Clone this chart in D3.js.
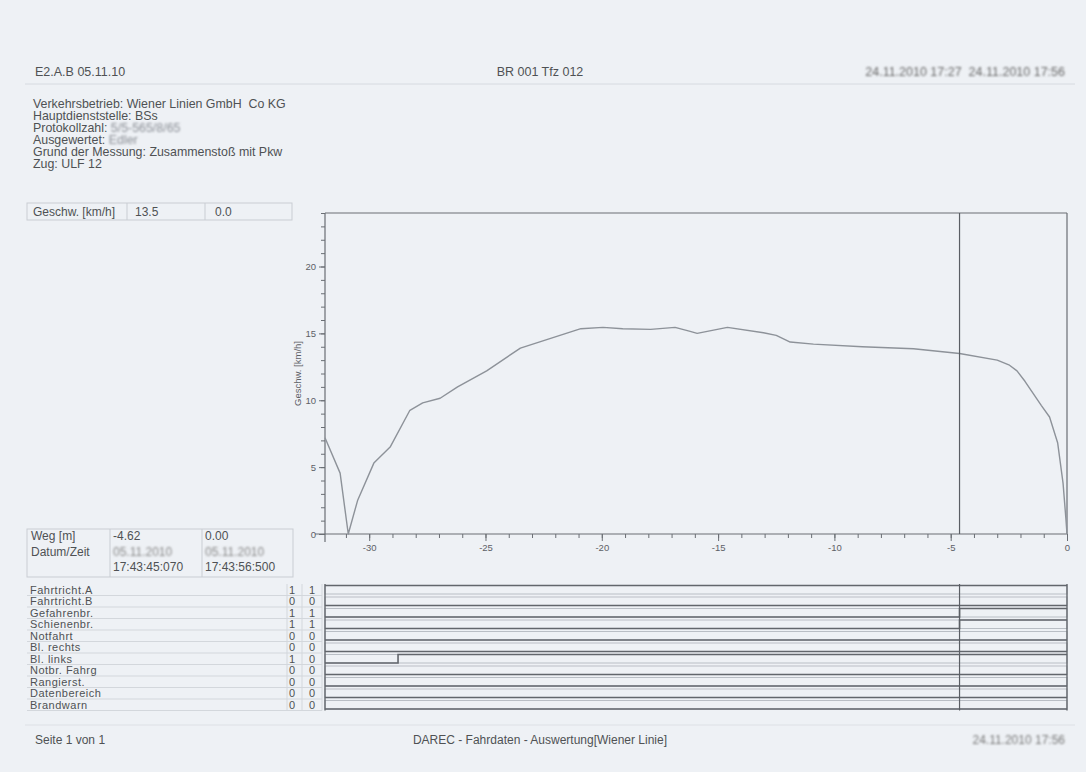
<!DOCTYPE html>
<html>
<head>
<meta charset="utf-8">
<script src="https://cdn.jsdelivr.net/npm/d3@7"></script>
<style>
  body { margin: 0; background: #eef1f5; }
  svg { display: block; font-family: "Liberation Sans", Arial, sans-serif; }
  text { white-space: pre; }
</style>
</head>
<body>
<div id="wrapper"></div>
<script>
// speed curve: distance [m] vs. speed [km/h]
const weg = [-31.9, -31.25, -30.9, -30.5, -29.8, -29.1, -28.25, -27.7, -26.95, -26.2, -24.95, -23.5,
    -21.8, -20.9, -19.95, -19.1, -17.9, -16.85, -16.2, -15.9, -14.6, -13.05, -12.5, -11.9, -10.9,
    -8.8, -6.6, -4.62, -3.0, -2.5, -2.15, -1.8, -1.45, -1.1, -0.75, -0.4, -0.17, -0.05, 0];
const geschw = [7.2, 4.55, 0, 2.5, 5.3, 6.5, 9.25, 9.8, 10.15, 11.0, 12.2, 13.9,
    14.85, 15.35, 15.45, 15.35, 15.3, 15.45, 15.15, 15.0, 15.45, 15.05, 14.85, 14.35, 14.2,
    14.0, 13.85, 13.5, 13.0, 12.65, 12.2, 11.4, 10.5, 9.6, 8.75, 6.8, 3.8, 1.2, 0];
const xTicks = [-30, -25, -20, -15, -10, -5, 0];
const yTicks = [0, 5, 10, 15, 20];
const cursorWeg = -4.62;

const infoLines = [
    ["Verkehrsbetrieb: Wiener Linien GmbH  Co KG", ""],
    ["Hauptdienststelle: BSs", ""],
    ["Protokollzahl: ", "5/5-565/8/65"],
    ["Ausgewertet: ", "Edler"],
    ["Grund der Messung: Zusammenstoß mit Pkw", ""],
    ["Zug: ULF 12", ""]
];

// digital signals
const signalNames = ["Fahrtricht.A", "Fahrtricht.B", "Gefahrenbr.", "Schienenbr.", "Notfahrt",
    "Bl. rechts", "Bl. links", "Notbr. Fahrg", "Rangierst.", "Datenbereich", "Brandwarn"];
const valCursor = [1, 0, 1, 1, 0, 0, 1, 0, 0, 0, 0];
const valEnd = [1, 0, 1, 1, 0, 0, 0, 0, 0, 0, 0];
// each signal: list of [from weg, state]
const signalSteps = [
    [[-31.9, 1]],
    [[-31.9, 0]],
    [[-31.9, 0], [-4.62, 1]],
    [[-31.9, 0], [-4.62, 1]],
    [[-31.9, 0]],
    [[-31.9, 0]],
    [[-31.9, 0], [-28.76, 1]],
    [[-31.9, 0]],
    [[-31.9, 0]],
    [[-31.9, 0]],
    [[-31.9, 0]]
];

const W = 1086, H = 772;
const txt = "#4f5154", axisCol = "#6a6e74", light = "#c9cdd3";

const svg = d3.select("#wrapper").append("svg").attr("width", W).attr("height", H);
svg.append("rect").attr("width", W).attr("height", H).attr("fill", "#eef1f5");

const defs = svg.append("defs");
defs.append("filter").attr("id", "blur").append("feGaussianBlur").attr("stdDeviation", 1.1);

function text(x, y, s, opt) {
    opt = opt || {};
    return svg.append("text").attr("x", x).attr("y", y).text(s)
        .attr("font-size", opt.size || 12.5)
        .attr("fill", opt.fill || txt)
        .attr("text-anchor", opt.anchor || "start")
        .attr("filter", opt.blur ? "url(#blur)" : null);
}

// header
text(35, 76, "E2.A.B 05.11.10");
text(540, 76, "BR 001 Tfz 012", {anchor: "middle"});
text(1065, 76, "24.11.2010 17:27  24.11.2010 17:56", {anchor: "end", blur: true, fill: "#666"});
svg.append("line").attr("x1", 25).attr("x2", 1075).attr("y1", 84).attr("y2", 84)
    .attr("stroke", "#d6dae0");

infoLines.forEach((d, i) => {
    const t = text(33, 108 + i * 11.9, d[0], {size: 12.4});
    if (d[1]) {
        t.append("tspan").text(d[1]).attr("fill", "#8a8e95").attr("filter", "url(#blur)");
    }
});

// Geschw box
svg.append("rect").attr("x", 27).attr("y", 203).attr("width", 265).attr("height", 17)
    .attr("fill", "none").attr("stroke", light);
[127, 205].forEach(x => svg.append("line").attr("x1", x).attr("x2", x).attr("y1", 203).attr("y2", 220)
    .attr("stroke", light));
text(33, 216, "Geschw. [km/h]", {size: 12});
text(135, 216, d3.format(".1f")(geschw[weg.indexOf(cursorWeg)]), {size: 12});
text(215, 216, d3.format(".1f")(geschw[geschw.length - 1]), {size: 12});

// Weg / Datum box
svg.append("rect").attr("x", 27).attr("y", 529).attr("width", 266).attr("height", 48)
    .attr("fill", "none").attr("stroke", light);
[110, 202].forEach(x => svg.append("line").attr("x1", x).attr("x2", x).attr("y1", 529).attr("y2", 577)
    .attr("stroke", light));
text(31, 540, "Weg [m]", {size: 12});
text(113, 540, cursorWeg.toFixed(2), {size: 12});
text(205, 540, weg[weg.length - 1].toFixed(2), {size: 12});
text(31, 556, "Datum/Zeit", {size: 12});
text(113, 556, "05.11.2010", {blur: true, fill: "#888", size: 12});
text(205, 556, "05.11.2010", {blur: true, fill: "#888", size: 12});
text(113, 571, "17:43:45:070", {size: 12});
text(205, 571, "17:43:56:500", {size: 12});

// speed chart
const x = d3.scaleLinear().domain([-31.9, 0]).range([325, 1067]);
const y = d3.scaleLinear().domain([0, 24]).range([534, 213]);

const plot = svg.append("g");
plot.append("line").attr("x1", x(-31.9)).attr("x2", x(0)).attr("y1", y(24)).attr("y2", y(24))
    .attr("stroke", axisCol).attr("stroke-width", 1.2);
plot.append("line").attr("x1", x(0)).attr("x2", x(0)).attr("y1", y(24)).attr("y2", y(0))
    .attr("stroke", axisCol).attr("stroke-width", 1.2);

const xAxis = plot.append("g").attr("transform", `translate(0,${y(0)})`)
    .call(d3.axisBottom(x).tickValues(d3.range(-31, 1, 1)).tickSize(4).tickFormat(""));
xAxis.append("g").call(d3.axisBottom(x).tickValues(xTicks).tickSize(7).tickFormat(d => String(d)));
xAxis.selectAll(".domain").remove();
xAxis.append("line").attr("x1", 315).attr("x2", x(0)).attr("stroke", axisCol).attr("stroke-width", 1.2);

const yAxis = plot.append("g").attr("transform", `translate(${x(-31.9)},0)`)
    .call(d3.axisLeft(y).tickValues(d3.range(0, 25, 1)).tickSize(4).tickFormat(""));
yAxis.append("g").call(d3.axisLeft(y).tickValues(yTicks).tickSize(6).tickFormat(d => String(d)));
yAxis.selectAll(".domain").remove();
yAxis.append("line").attr("y1", y(24)).attr("y2", y(0) + 8).attr("stroke", axisCol).attr("stroke-width", 1.2);

plot.selectAll(".tick line").attr("stroke", axisCol);
plot.selectAll(".tick text").attr("fill", "#5d6066").attr("font-size", 9.5)
    .attr("font-family", "'Liberation Sans', Arial, sans-serif");

svg.append("text").attr("transform", `translate(301,${y(12)}) rotate(-90)`)
    .attr("text-anchor", "middle").attr("font-size", 9.5).attr("fill", "#5d6066")
    .text("Geschw. [km/h]");

const line = d3.line().x(d => x(d[0])).y(d => y(d[1]));
plot.append("path").datum(d3.zip(weg, geschw)).attr("d", line)
    .attr("fill", "none").attr("stroke", "#8d9299").attr("stroke-width", 1.4)
    .attr("stroke-linejoin", "round");

// cursor
svg.append("line").attr("x1", x(cursorWeg)).attr("x2", x(cursorWeg)).attr("y1", y(24)).attr("y2", y(0))
    .attr("stroke", "#5a5e64").attr("stroke-width", 1.2);

// signal table
const rowH = 11.5, top0 = 584;
const row = d3.scaleLinear().domain([0, signalNames.length]).range([top0, top0 + rowH * signalNames.length]);
const tbl = svg.append("g");
signalNames.forEach((name, i) => {
    tbl.append("line").attr("x1", 27).attr("x2", 322).attr("y1", row(i + 1)).attr("y2", row(i + 1))
        .attr("stroke", "#d3d7dc");
    tbl.append("text").attr("x", 30).attr("y", row(i) + 9.8).text(name)
        .attr("font-size", 11).attr("letter-spacing", 0.5).attr("fill", txt);
    tbl.append("text").attr("x", 292).attr("y", row(i) + 9.8).text(valCursor[i])
        .attr("font-size", 11).attr("fill", txt).attr("text-anchor", "middle");
    tbl.append("text").attr("x", 312).attr("y", row(i) + 9.8).text(valEnd[i])
        .attr("font-size", 11).attr("fill", txt).attr("text-anchor", "middle");
    // row box
    tbl.append("rect").attr("x", x(-31.9)).attr("y", row(i) + 1.5).attr("width", x(0) - x(-31.9))
        .attr("height", rowH - 3).attr("fill", "none").attr("stroke", "#b9bec5").attr("stroke-width", 1);
    // signal line
    const steps = signalSteps[i];
    const pts = [];
    steps.forEach((s, k) => {
        const end = k < steps.length - 1 ? steps[k + 1][0] : 0;
        const lvl = s[1] ? row(i) + 1.5 : row(i) + rowH - 1.5;
        pts.push([x(s[0]), lvl], [x(end), lvl]);
    });
    tbl.append("path").attr("d", d3.line()(pts)).attr("fill", "none")
        .attr("stroke", "#62666c").attr("stroke-width", 1.6);
});
[287, 302, 322].forEach(xx => tbl.append("line").attr("x1", xx).attr("x2", xx)
    .attr("y1", top0).attr("y2", row(signalNames.length)).attr("stroke", "#d3d7dc"));
tbl.append("line").attr("x1", x(-31.9)).attr("x2", x(-31.9)).attr("y1", top0).attr("y2", row(signalNames.length))
    .attr("stroke", "#62666c").attr("stroke-width", 1.4);
tbl.append("line").attr("x1", x(0)).attr("x2", x(0)).attr("y1", top0).attr("y2", row(signalNames.length))
    .attr("stroke", "#62666c").attr("stroke-width", 1.4);
tbl.append("line").attr("x1", x(cursorWeg)).attr("x2", x(cursorWeg)).attr("y1", top0).attr("y2", row(signalNames.length))
    .attr("stroke", "#5a5e64").attr("stroke-width", 1.2);

// footer
svg.append("line").attr("x1", 25).attr("x2", 1075).attr("y1", 725).attr("y2", 725).attr("stroke", "#dde0e5");
text(35, 744, "Seite 1 von 1", {size: 12});
text(540, 744, "DAREC - Fahrdaten - Auswertung[Wiener Linie]", {anchor: "middle", size: 12});
text(1065, 744, "24.11.2010 17:56", {anchor: "end", blur: true, fill: "#777", size: 12});
</script>
</body>
</html>
